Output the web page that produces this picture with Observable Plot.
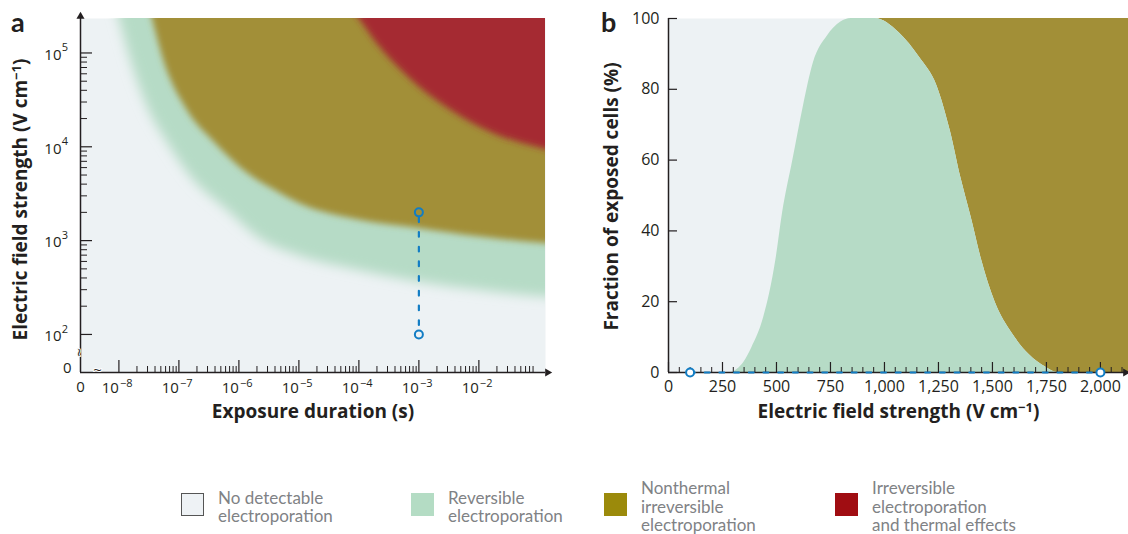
<!DOCTYPE html>
<html>
<head>
<meta charset="utf-8">
<script src="https://cdn.jsdelivr.net/npm/d3@7"></script>
<script src="https://cdn.jsdelivr.net/npm/@observablehq/plot@0.6"></script>
<style>
  html, body { margin: 0; padding: 0; background: #fff; }
  #fig { position: relative; width: 1128px; height: 534px; overflow: hidden; background: #fff; font-family: "Open Sans", Lato, sans-serif; }
  .panel { position: absolute; top: 0; }
  .tag { position: absolute; font: bold 27px/27px Lato, "Open Sans", sans-serif; color: #231f20; }
  .leg { position: absolute; top: 480px; height: 54px; display: flex; align-items: center; }
  .sw { width: 23px; height: 23px; margin-right: 14px; position: relative; top: -3px; box-sizing: border-box; flex: none; }
  .lt { font: 17px/18.5px Lato, "Open Sans", sans-serif; color: #808285; white-space: nowrap; }
</style>
</head>
<body>
<div id="fig">
  <div id="pa" class="panel" style="left:0px;width:560px"></div>
  <div id="pb" class="panel" style="left:590px;width:538px"></div>
  <div class="tag" style="left:11px;top:8px">a</div>
  <div class="tag" style="left:601px;top:8px">b</div>
  <div id="legend"></div>
</div>
<script>
// ---------------- DATA ----------------
// Panel a: region boundaries, pulse duration (s) vs threshold field (V/cm)
const revDuration = [6.3e-9, 1.0e-8, 1.58e-8, 3.16e-8, 6.5e-8, 1.58e-7, 6.5e-7, 2.5e-6, 1.0e-5, 1.0e-4, 1.0e-3, 1.0e-2, 0.126, 1];
const revField    = [6.3e5, 2.34e5, 8.3e4, 2.45e4, 1.1e4, 4.8e3, 2.1e3, 1.0e3, 690, 480, 360, 295, 250, 235];

const nonDuration = [2.4e-8, 3.6e-8, 5.6e-8, 1.38e-7, 4.0e-7, 1.41e-6, 3.8e-6, 1.07e-5, 1.0e-4, 1.0e-3, 1.0e-2, 0.126, 1];
const nonField    = [6.3e5, 2.34e5, 8.3e4, 2.45e4, 1.1e4, 5.2e3, 3.5e3, 2.45e3, 1.66e3, 1.35e3, 1.1e3, 930, 870];

const irrDuration = [4.0e-5, 1.0e-4, 2.0e-4, 6.5e-4, 3.4e-3, 1.78e-2, 0.12, 1];
const irrField    = [5.2e5, 2.34e5, 1.26e5, 5.6e4, 2.45e4, 1.38e4, 9.5e3, 7.6e3];

// Panel a: example pulse (1 ms, 100 -> 2000 V/cm)
const pulseDuration = [1e-3, 1e-3];
const pulseField    = [2000, 100];

// Panel a ticks
const durTicks   = [1e-8, 1e-7, 1e-6, 1e-5, 1e-4, 1e-3, 1e-2];
const durTickExp = ["\u22128", "\u22127", "\u22126", "\u22125", "\u22124", "\u22123", "\u22122"];
const fieldTicks   = [1e2, 1e3, 1e4, 1e5];
const fieldTickExp = ["2", "3", "4", "5"];

// Panel b: fraction of exposed cells (%) vs field strength (V/cm)
const revFieldB = [0, 290, 320, 350, 386, 441, 497, 528, 576, 624, 671, 735, 798, 846, 957, 1068, 1163, 1243, 1306, 1354, 1401, 1449, 1512, 1592, 1671, 1750, 1800, 2130];
const revFrac   = [0, 0, 1, 3, 7, 15.6, 31.7, 45, 60, 75, 87.5, 95, 99, 100, 100, 96, 89, 81, 68, 55, 44, 32, 20, 11, 5, 1.4, 0, 0];
const nonFieldB = [900, 957, 1068, 1163, 1243, 1306, 1354, 1401, 1449, 1512, 1592, 1671, 1750, 1800, 2130];
const nonFrac   = [100, 100, 96, 89, 81, 68, 55, 44, 32, 20, 11, 5, 1.4, 0, 0];
const pulseFieldB = [100, 2000];
const pulseFracB  = [0, 0];
const fieldTicksB = [0, 250, 500, 750, 1000, 1250, 1500, 1750, 2000];
const fracTicks   = [0, 20, 40, 60, 80, 100];

// Legend
const legendLabels = [
  ["No detectable", "electroporation"],
  ["Reversible", "electroporation"],
  ["Nonthermal", "irreversible", "electroporation"],
  ["Irreversible", "electroporation", "and thermal effects"]
];
const legendColors = ["#eef2f5", "#b4dcc4", "#9b8a0b", "#a00d12"];

// ---------------- STYLE / LAYOUT ----------------
const C = {light: "#edf2f4", rev: "#b6dbc6", non: "#a28f37", irr: "#a52b33", blue: "#127dc4", ink: "#231f20"};
const FONT = "'Open Sans', Lato, sans-serif";
const legendLeft = [181, 411, 604, 835];

const rows = (xs, ys, kx, ky) => xs.map((v, i) => ({[kx]: v, [ky]: ys[i]}));
const rev = rows(revDuration, revField, "t", "E");
const non = rows(nonDuration, nonField, "t", "E");
const irr = rows(irrDuration, irrField, "t", "E");
const pulse = rows(pulseDuration, pulseField, "t", "E");
const revB = rows(revFieldB, revFrac, "E", "p");
const nonB = rows(nonFieldB, nonFrac, "E", "p");
const pulseB = rows(pulseFieldB, pulseFracB, "E", "p");

const txt = {fill: C.ink, stroke: "none"};
const TITLE = {fontWeight: "bold", fontSize: 19, textAnchor: "middle", ...txt};

// ---------------- PANEL A ----------------
const wA = 560, hA = 430, mA = {t: 18, r: 15, b: 58, l: 80};
const iwA = wA - mA.l - mA.r, ihA = hA - mA.t - mA.b;
const xDomA = [2.29e-9, 0.129];
const yDomA = [39.3, 2.33e5];
const EXT = 1e9;
const durMinor = d3.range(-8, -1).flatMap(n => d3.range(2, 10).map(k => k * 10 ** n)).filter(v => v < 0.085);
const fieldMinor = d3.range(2, 5).flatMap(n => d3.range(2, 10).map(k => k * 10 ** n));

const plotA = Plot.plot({
  width: wA, height: hA,
  marginTop: mA.t, marginRight: mA.r, marginBottom: mA.b, marginLeft: mA.l,
  x: {type: "log", domain: xDomA, axis: null},
  y: {type: "log", domain: yDomA, axis: null},
  style: {fontFamily: FONT, fontSize: "15px", color: C.ink, background: "transparent", overflow: "visible"},
  marks: [
    Plot.frame({fill: C.light, stroke: "none"}),
    Plot.area(rev, {x1: "t", y1: "E", y2: () => EXT, fill: C.rev, curve: "monotone-x", clip: true}),
    Plot.area(non, {x1: "t", y1: "E", y2: () => EXT, fill: C.non, curve: "monotone-x", clip: true}),
    Plot.area(irr, {x1: "t", y1: "E", y2: () => EXT, fill: C.irr, curve: "monotone-x", clip: true}),
    // ticks (inward)
    Plot.ruleX(durTicks, {x: d => d, insetTop: ihA - 12, stroke: C.ink, strokeWidth: 1.2}),
    Plot.ruleX(durMinor, {x: d => d, insetTop: ihA - 6, stroke: C.ink, strokeWidth: 1}),
    Plot.ruleY(fieldTicks, {y: d => d, insetRight: iwA - 12, stroke: C.ink, strokeWidth: 1.2}),
    Plot.ruleY(fieldMinor, {y: d => d, insetRight: iwA - 7, stroke: C.ink, strokeWidth: 1}),
    // axis lines + arrows
    Plot.ruleY([yDomA[0]], {stroke: C.ink, strokeWidth: 1.5}),
    Plot.ruleX([xDomA[0]], {stroke: C.ink, strokeWidth: 1.5}),
    Plot.dot([0], {x: () => xDomA[1], y: () => yDomA[0], symbol: "triangle", rotate: 90, r: 3, dx: 2, fill: C.ink, stroke: "none"}),
    Plot.dot([0], {x: () => xDomA[0], y: () => yDomA[1], symbol: "triangle", r: 3, dy: -2, fill: C.ink, stroke: "none"}),
    // axis breaks
    Plot.text(["~"], {x: () => 4.4e-9, frameAnchor: "bottom", textAnchor: "middle", dy: 2, fontSize: 15, fill: C.ink, stroke: "#fff", strokeWidth: 2, paintOrder: "stroke"}),
    Plot.text(["~"], {y: () => 64, frameAnchor: "left", textAnchor: "middle", rotate: 90, dx: -2, fontSize: 15, fill: C.ink, stroke: C.light, strokeWidth: 2, paintOrder: "stroke"}),
    // pulse
    Plot.line(pulse, {x: "t", y: "E", stroke: C.blue, strokeWidth: 2.2, strokeDasharray: "4.7,10", strokeDashoffset: 9.7}),
    Plot.dot(pulse, {x: "t", y: "E", r: 4, stroke: C.blue, strokeWidth: 2, fill: "none"}),
    // tick labels
    Plot.text(durTicks, {x: d => d, frameAnchor: "bottom", dy: 20, text: () => "10", textAnchor: "end", ...txt}),
    Plot.text(durTicks, {x: d => d, frameAnchor: "bottom", dy: 14, dx: 1, text: (d, i) => durTickExp[i], textAnchor: "start", fontSize: 11, ...txt}),
    Plot.text(fieldTicks, {y: d => d, frameAnchor: "left", dx: -19, dy: 2, text: () => "10", textAnchor: "end", ...txt}),
    Plot.text(fieldTicks, {y: d => d, frameAnchor: "left", dx: -12.5, dy: -5, text: (d, i) => fieldTickExp[i], textAnchor: "end", fontSize: 11, ...txt}),
    Plot.text(["0"], {frameAnchor: "bottom-left", textAnchor: "middle", dy: 19, ...txt}),
    Plot.text(["0"], {frameAnchor: "bottom-left", dx: -9, textAnchor: "end", ...txt}),
    // axis titles
    Plot.text(["Exposure duration (s)"], {frameAnchor: "bottom", dy: 45, ...TITLE}),
    Plot.text(["Electric field strength (V cm^\u22121|)"], {frameAnchor: "left", rotate: -90, dx: -60, dy: 4, ...TITLE})
  ]
});

// blur region edges, as in the reference
(function () {
  const svg = d3.select(plotA);
  const defs = svg.insert("defs", ":first-child");
  const blurs = [["blurRev", 6], ["blurNon", 3.2], ["blurIrr", 3.2]];
  blurs.forEach(([id, s]) => {
    defs.append("filter").attr("id", id).attr("filterUnits", "userSpaceOnUse")
      .attr("x", -800).attr("y", -800).attr("width", 2400).attr("height", 2400)
      .append("feGaussianBlur").attr("stdDeviation", s);
  });
  svg.selectAll('g[aria-label="area"]').each(function (d, i) {
    if (blurs[i]) d3.select(this).attr("filter", `url(#${blurs[i][0]})`);
  });
})();

// ---------------- PANEL B ----------------
const wB = 538, hB = 430, mB = {t: 18, r: 0, b: 58, l: 78};
const iwB = wB - mB.l - mB.r, ihB = hB - mB.t - mB.b;
const xDomB = [0, 2130], yDomB = [0, 100];
const fieldMinorB = d3.range(50, 2101, 50).filter(v => v % 250 !== 0);

const plotB = Plot.plot({
  width: wB, height: hB,
  marginTop: mB.t, marginRight: mB.r, marginBottom: mB.b, marginLeft: mB.l,
  x: {domain: xDomB, axis: null},
  y: {domain: yDomB, axis: null},
  style: {fontFamily: FONT, fontSize: "16px", color: C.ink, background: "transparent", overflow: "visible"},
  marks: [
    Plot.frame({fill: C.light, stroke: "none"}),
    Plot.area(nonB, {x1: "E", y1: "p", y2: () => 100, fill: C.non, curve: "monotone-x"}),
    Plot.area(revB, {x1: "E", y1: () => 0, y2: "p", fill: C.rev, curve: "monotone-x"}),
    // ticks
    Plot.ruleX(fieldTicksB, {x: d => d, insetTop: ihB - 10, stroke: C.ink, strokeWidth: 1.2}),
    Plot.ruleX(fieldMinorB, {x: d => d, insetTop: ihB - 5, stroke: C.ink, strokeWidth: 1}),
    Plot.ruleY(fracTicks, {y: d => d, insetRight: iwB - 9, stroke: C.ink, strokeWidth: 1.2}),
    // axes
    Plot.ruleY([yDomB[0]], {stroke: C.ink, strokeWidth: 1.5}),
    Plot.ruleX([xDomB[0]], {stroke: C.ink, strokeWidth: 1.5}),
    Plot.dot([0], {x: () => xDomB[1], y: () => yDomB[0], symbol: "triangle", rotate: 90, r: 3, dx: -3, fill: C.ink, stroke: "none"}),
    // pulse series along the axis
    Plot.line(pulseB, {x: "E", y: "p", stroke: C.blue, strokeWidth: 2.2, strokeDasharray: "4.7,10", strokeDashoffset: 0}),
    Plot.dot(pulseB, {x: "E", y: "p", r: 4, stroke: C.blue, strokeWidth: 2, fill: "#fff"}),
    // labels
    Plot.text(fieldTicksB, {x: d => d, frameAnchor: "bottom", dy: 19, text: d => d3.format(",")(d), ...txt}),
    Plot.text(fracTicks, {y: d => d, frameAnchor: "left", dx: -9, textAnchor: "end", text: d => String(d), ...txt}),
    Plot.text(["Electric field strength (V cm^\u22121|)"], {frameAnchor: "bottom", dy: 45, ...TITLE}),
    Plot.text(["Fraction of exposed cells (%)"], {frameAnchor: "left", rotate: -90, dx: -57, dy: 1, ...TITLE})
  ]
});

// superscripts in axis titles
function supify(svg) {
  d3.select(svg).selectAll("text").each(function () {
    const s = this.textContent;
    if (!s.includes("^")) return;
    const [a, rest] = s.split("^");
    const [sup, b] = rest.split("|");
    const t = d3.select(this);
    t.text(null);
    t.append("tspan").text(a);
    t.append("tspan").attr("dy", -6).attr("font-size", "13px").text(sup);
    t.append("tspan").attr("dy", 6).text(b);
  });
}
supify(plotA);
supify(plotB);

document.getElementById("pa").appendChild(plotA);
document.getElementById("pb").appendChild(plotB);

// ---------------- LEGEND ----------------
const leg = d3.select("#legend");
legendLabels.forEach((lines, i) => {
  const item = leg.append("div").attr("class", "leg").style("left", legendLeft[i] + "px");
  item.append("div").attr("class", "sw")
    .style("background", legendColors[i])
    .style("border", i === 0 ? "1.3px solid #555" : "none");
  item.append("div").attr("class", "lt").html(lines.join("<br>"));
});
</script>
</body>
</html>
